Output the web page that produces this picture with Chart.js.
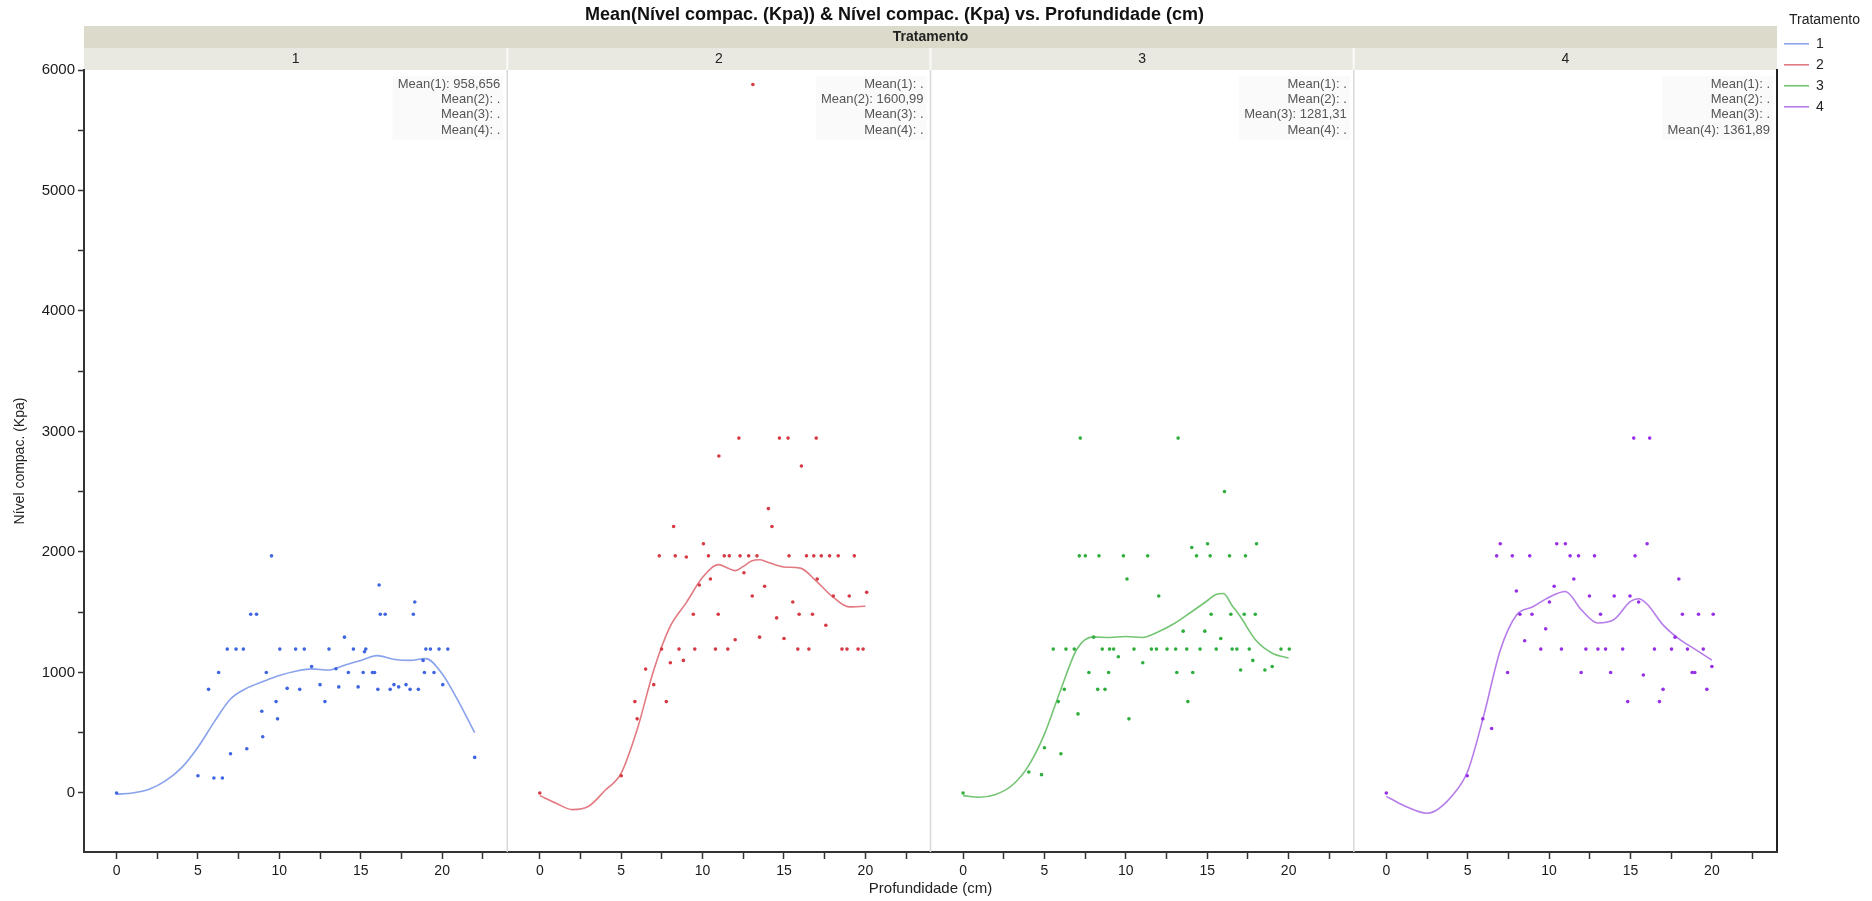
<!DOCTYPE html>
<html>
<head>
<meta charset="utf-8">
<title>Nível compac. vs. Profundidade</title>
<script src="https://cdn.jsdelivr.net/npm/chart.js@4.4.1/dist/chart.umd.min.js"></script>
<style>
  html, body { margin: 0; padding: 0; background: #fff; }
  #wrap { width: 1872px; height: 901px; }
</style>
</head>
<body>
<div id="wrap"><canvas id="chart" width="1872" height="901"></canvas></div>
<script>
// values
const panels = ['1', '2', '3', '4'];
const means = ['958,656', '1600,99', '1281,31', '1361,89'];
const xTicks = [0, 2.5, 5, 7.5, 10, 12.5, 15, 17.5, 20, 22.5];
const yTicks = [0, 500, 1000, 1500, 2000, 2500, 3000, 3500, 4000, 4500, 5000, 5500, 6000];

const depth1 = [0,5,5.65,5.98,6.27,6.5,6.8,7.0,7.34,7.79,8.0,8.24,8.6,8.92,8.98,9.2,9.52,9.8,9.89,10.03,10.48,11.0,11.25,11.53,11.98,12.5,12.8,13.05,13.48,13.65,14.0,14.24,14.55,14.84,15.15,15.23,15.31,15.72,15.85,16.05,16.13,16.2,16.5,16.81,17.04,17.33,17.78,18.03,18.23,18.32,18.54,18.83,18.91,19.0,19.28,19.5,19.81,20.04,20.35,22.0];
const kpa1 = [0,143,860,124,1000,124,1194,325,1194,1194,367,1483,1483,678,466,1000,1968,758,615,1194,868,1194,860,1194,1050,899,758,1194,1031,880,1293,1000,1194,880,1000,1172,1194,1000,1000,860,1726,1483,1483,860,899,880,899,860,1483,1585,860,1100,1000,1194,1194,1000,1194,899,1194,295];

const depth2 = [0,5.0,5.84,5.98,6.5,7.0,7.34,7.48,7.77,8.02,8.22,8.32,8.55,8.82,9.0,9.43,9.52,9.8,10.05,10.36,10.48,10.79,10.96,11.0,11.33,11.55,11.64,12.0,12.23,12.3,12.54,12.83,13.05,13.09,13.34,13.5,13.81,14.04,14.26,14.55,14.72,15.0,15.25,15.31,15.54,15.85,15.93,16.07,16.38,16.53,16.75,16.83,16.98,17.04,17.29,17.57,17.8,18.03,18.33,18.56,18.87,19.01,19.32,19.55,19.86,20.08];
const kpa2 = [0,143,758,615,1028,899,1968,1194,758,1081,2211,1968,1194,1100,1958,1483,1194,1726,2068,1968,1776,1194,1483,2796,1968,1194,1968,1271,2945,1968,1828,1968,1635,5880,1968,1293,1715,2360,2211,1453,2945,1282,2945,1968,1585,1194,1483,2713,1968,1194,1483,1968,2945,1776,1968,1392,1968,1635,1968,1194,1194,1635,1968,1194,1194,1665];

const depth3 = [0,4.04,4.82,5.0,5.54,5.85,6.01,6.22,6.32,6.83,7.06,7.14,7.2,7.51,7.73,8.02,8.27,8.35,8.55,8.72,8.94,9.0,9.25,9.54,9.85,10.07,10.19,10.5,11.04,11.34,11.57,11.88,12.02,12.53,13.06,13.13,13.21,13.52,13.74,13.81,14.05,14.11,14.34,14.56,14.85,15.02,15.18,15.24,15.55,15.83,16.06,16.37,16.45,16.53,16.82,17.05,17.27,17.35,17.58,17.8,17.95,18.03,18.54,18.99,19.53,20.04];
const kpa3 = [0,174,152,375,1194,758,325,860,1194,1194,656,1968,2945,1968,1000,1293,860,1968,1194,860,1000,1194,1194,1130,1968,1776,615,1194,1081,1968,1194,1194,1635,1194,1194,1000,2945,1343,1194,758,2037,1000,1968,1194,1343,2068,1968,1483,1194,1282,2501,1968,1483,1194,1194,1020,1483,1968,1194,1100,1483,2068,1020,1050,1194,1194];

const depth4 = [0,4.97,5.93,6.47,6.78,7.0,7.45,7.74,7.99,8.21,8.5,8.81,8.95,9.49,9.79,10.02,10.31,10.47,10.76,11.0,11.29,11.52,11.81,11.97,12.26,12.48,12.79,13.0,13.16,13.47,13.78,14.0,14.52,14.83,14.97,15.2,15.28,15.5,15.79,16.02,16.18,16.47,16.78,17.0,17.52,17.74,17.97,18.19,18.5,18.79,18.95,19.18,19.47,19.69,20.0,20.08];
const kpa4 = [0,143,615,535,1968,2068,1000,1968,1676,1483,1263,1968,1483,1194,1362,1585,1715,2068,1194,2068,1968,1776,1968,1000,1194,1635,1968,1194,1483,1194,1000,1635,1194,758,1635,2945,1968,1585,979,2068,2945,1194,758,860,1194,1293,1776,1483,1194,1000,1000,1483,1194,860,1050,1483];

// smoother curves
const curveDepth1 = [0,1,2,3,4,5,6,7,8,9,10,11,12,13,14,15,16,17,18,19,20,21,22];
const curveKpa1 = [-10,0,30,100,210,380,590,780,870,925,975,1010,1030,1020,1060,1100,1140,1110,1100,1115,990,760,500];
const curveDepth2 = [0,1,2,3,4,5,6,7,8,9,10,11,11.5,12,12.5,13,13.5,14,15,16,17,18,19,20];
const curveKpa2 = [-22,-85,-138,-110,20,165,535,1020,1380,1580,1790,1895,1870,1845,1880,1925,1935,1915,1875,1866,1756,1627,1544,1550];
const curveDepth3 = [0,1,2,3,4,5,6,7,8,9,10,11,12,13,14,15,15.5,16,16.5,17,18,19,20];
const curveKpa3 = [-22,-35,-12,62,221,488,857,1195,1295,1290,1298,1290,1338,1408,1500,1595,1645,1655,1560,1470,1265,1160,1120];
const curveDepth4 = [0,1,2,2.5,3,4,5,6,7,8,9,10,11,12,13,14,15,15.5,16,17,18,19,20];
const curveKpa4 = [-28,-100,-155,-168,-150,-30,180,650,1185,1477,1545,1625,1672,1517,1410,1440,1590,1612,1570,1395,1276,1190,1103];

const pointColors = ['#3f66e0', '#d63a44', '#2fae3e', '#9630e4'];
const lineColors = ['#88a2ec', '#e27a82', '#74c474', '#b67ce8'];

const depths = [depth1, depth2, depth3, depth4];
const kpas = [kpa1, kpa2, kpa3, kpa4];
const curveDepths = [curveDepth1, curveDepth2, curveDepth3, curveDepth4];
const curveKpas = [curveKpa1, curveKpa2, curveKpa3, curveKpa4];

const FONT = "'Liberation Sans', Arial, sans-serif";
Chart.defaults.font.family = FONT;
Chart.defaults.color = '#222';

const pts = (xs, ys) => xs.map((x, i) => ({ x: x, y: ys[i] }));

const datasets = [];
panels.forEach((p, i) => {
  datasets.push({
    type: 'scatter',
    label: 'pontos ' + p,
    data: pts(depths[i], kpas[i]),
    xAxisID: 'x' + p,
    yAxisID: 'y',
    pointRadius: 1.8,
    pointBackgroundColor: pointColors[i],
    pointBorderWidth: 0,
    order: 1
  });
});
panels.forEach((p, i) => {
  datasets.push({
    type: 'line',
    label: p,
    data: pts(curveDepths[i], curveKpas[i]),
    xAxisID: 'x' + p,
    yAxisID: 'y',
    borderColor: lineColors[i],
    backgroundColor: lineColors[i],
    borderWidth: 1.6,
    pointRadius: 0,
    cubicInterpolationMode: 'monotone',
    fill: false,
    order: 2
  });
});

const scales = {
  y: {
    type: 'linear', position: 'left', min: -490, max: 6000,
    afterBuildTicks: s => { s.ticks = yTicks.map(v => ({ value: v })); },
    afterFit: s => { s.width = 84; },
    ticks: { autoSkip: false, padding: 3, color: '#1a1a1a', font: { size: 15 },
             callback: v => (v % 1000 === 0 ? String(v) : '') },
    grid: { drawOnChartArea: false, tickLength: 6, color: '#333', tickWidth: 1.5 },
    border: { color: '#333', width: 2 },
    title: { display: true, text: 'Nível compac. (Kpa)', font: { size: 14 }, color: '#222',
             padding: { top: 12, bottom: 0 } }
  },
  yr: {
    type: 'linear', position: 'right', min: -490, max: 6000,
    ticks: { display: false }, grid: { display: false },
    border: { color: '#222', width: 2 },
    afterFit: s => { s.width = 0; }
  },
  xh: {
    type: 'linear', position: 'top', weight: 2, min: 0, max: 1,
    ticks: { display: false }, grid: { display: false }, border: { display: false },
    title: { display: true, text: 'Tratamento', color: '#222', font: { size: 14, weight: 'bold' },
             padding: { top: 28.6, bottom: 0 } },
    afterFit: s => { s.height = 48; }
  },
  xb: {
    type: 'linear', position: 'bottom', weight: 2, min: 0, max: 1,
    ticks: { display: false }, grid: { display: false }, border: { display: false },
    title: { display: true, text: 'Profundidade (cm)', color: '#222', font: { size: 15 },
             padding: { top: 0, bottom: 3 } },
    afterFit: s => { s.height = 21; }
  }
};

panels.forEach(p => {
  scales['x' + p] = {
    type: 'linear', position: 'bottom', stack: 'bottom', stackWeight: 1, weight: 1,
    min: -2, max: 24,
    afterBuildTicks: s => { s.ticks = xTicks.map(v => ({ value: v })); },
    afterFit: s => { s.height = 28; },
    ticks: { autoSkip: false, maxRotation: 0, padding: 4, color: '#1a1a1a', font: { size: 14 },
             callback: v => (v % 5 === 0 ? String(v) : '') },
    grid: { drawOnChartArea: false, tickLength: 7, color: '#333', tickWidth: 1.5 },
    border: { color: '#333', width: 2 }
  };
});
// top boxes are laid out in reverse order, so the header cells are added 4..1
panels.slice().reverse().forEach(p => {
  scales['x' + p + 't'] = {
    type: 'linear', position: 'top', stack: 'top', stackWeight: 1, weight: 1,
    min: -2, max: 24,
    backgroundColor: '#e9e9e1',
    ticks: { display: false }, grid: { display: false }, border: { display: false },
    title: { display: true, text: p, color: '#222', font: { size: 14 },
             padding: { top: 2.6, bottom: 0 } },
    afterFit: s => { s.height = 22; }
  };
});

// legend box needs room for its title
const legendWidth = {
  id: 'legendWidth',
  beforeLayout(chart) {
    const lg = chart.legend;
    if (lg && !lg._wide) {
      const fit = lg.fit;
      lg.fit = function () { fit.call(this); this.width = 95; };
      lg._wide = true;
    }
  }
};

// header band, panel separators, mean labels and page title
const decor = {
  id: 'decor',
  beforeDraw(chart) {
    const { ctx } = chart;
    const h = chart.scales.xh;
    ctx.save();
    ctx.fillStyle = '#dcdacb';
    ctx.fillRect(h.left, h.bottom - 22, h.right - h.left, 22);
    ctx.restore();
  },
  beforeDatasetsDraw(chart) {
    const { ctx, chartArea: a } = chart;
    ctx.save();
    ctx.strokeStyle = '#d8d8d8';
    ctx.lineWidth = 1.5;
    panels.slice(0, 3).forEach(p => {
      const x = chart.scales['x' + p].right;
      ctx.beginPath(); ctx.moveTo(x, a.top); ctx.lineTo(x, a.bottom); ctx.stroke();
    });
    ctx.restore();
  },
  afterDraw(chart) {
    const { ctx, chartArea: a } = chart;
    ctx.save();
    // white gaps between header cells
    ctx.strokeStyle = '#f7f7f3';
    ctx.lineWidth = 2.5;
    panels.slice(0, 3).forEach(p => {
      const s = chart.scales['x' + p + 't'];
      ctx.beginPath(); ctx.moveTo(s.right, s.top); ctx.lineTo(s.right, s.bottom); ctx.stroke();
    });
    // mean boxes
    ctx.font = '13px ' + FONT;
    ctx.textAlign = 'right';
    ctx.textBaseline = 'middle';
    panels.forEach((p, i) => {
      const s = chart.scales['x' + p];
      const lines = panels.map((q, j) => 'Mean(' + q + '): ' + (j === i ? means[i] : '.'));
      const w = Math.max(...lines.map(t => ctx.measureText(t).width));
      const right = s.right - 7;
      ctx.fillStyle = '#fafafa';
      ctx.fillRect(right - w - 5, a.top + 6, w + 8, 64);
      ctx.fillStyle = '#555';
      lines.forEach((t, k) => ctx.fillText(t, right, a.top + 14 + k * 15.4));
    });
    // page title
    ctx.fillStyle = '#111';
    ctx.textAlign = 'center';
    ctx.font = 'bold 18px ' + FONT;
    ctx.fillText('Mean(Nível compac. (Kpa)) & Nível compac. (Kpa) vs. Profundidade (cm)', 894.5, 15);
    ctx.restore();
  }
};

new Chart(document.getElementById('chart'), {
  data: { datasets: datasets },
  options: {
    responsive: false,
    animation: false,
    events: [],
    layout: { padding: { left: 0, right: 0, top: 0, bottom: 0 } },
    scales: scales,
    plugins: {
      title: { display: false },
      tooltip: { enabled: false },
      legend: {
        position: 'right',
        align: 'start',
        title: { display: true, text: 'Tratamento', color: '#222',
                 font: { size: 14 }, padding: { top: 13, bottom: 0 } },
        labels: {
          usePointStyle: true, pointStyle: 'line', pointStyleWidth: 25,
          font: { size: 14 }, color: '#222', padding: 7,
          filter: item => panels.includes(item.text)
        }
      }
    }
  },
  plugins: [legendWidth, decor]
});
</script>
</body>
</html>
